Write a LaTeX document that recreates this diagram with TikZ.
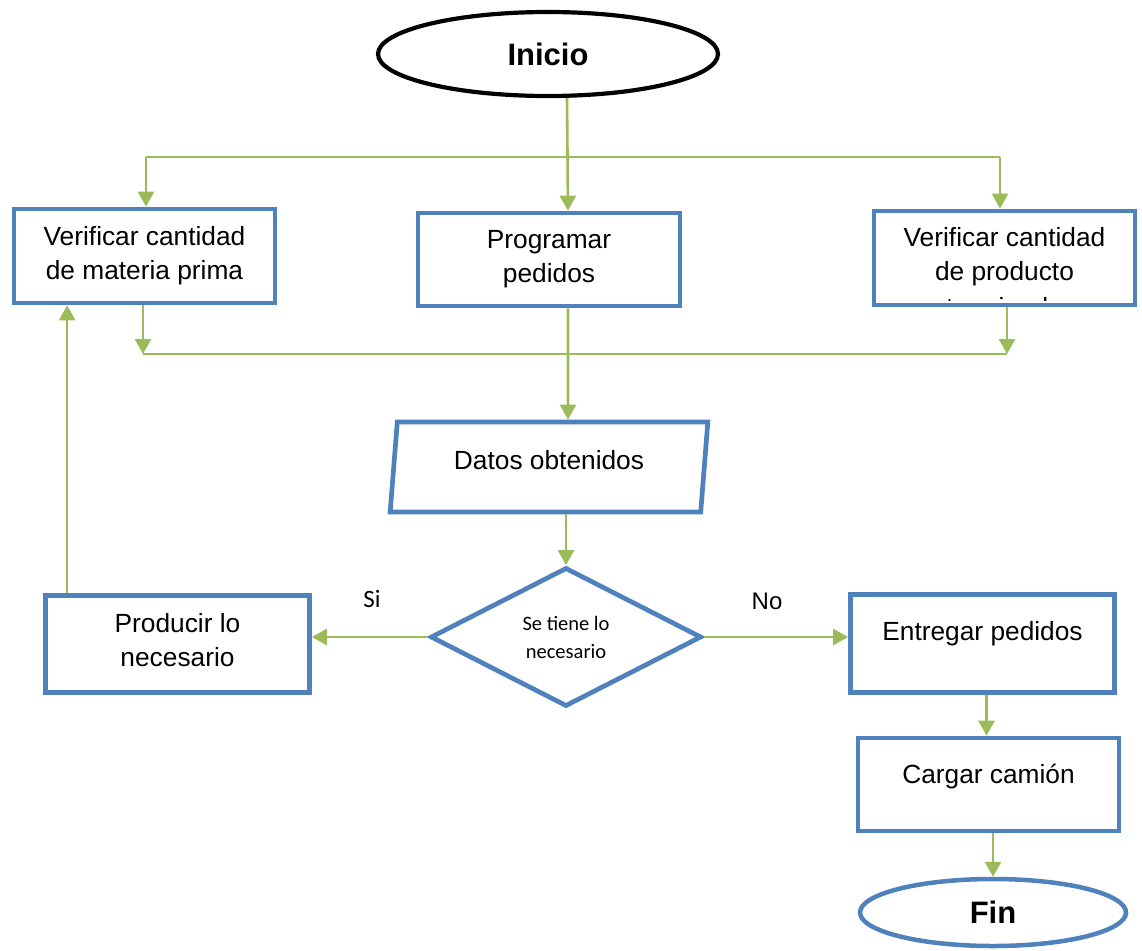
\documentclass[tikz,border=0pt]{standalone}
\usepackage{fontspec}
\setmainfont{Liberation Sans}
\newfontfamily\calibri{Carlito}
\usetikzlibrary{shapes.geometric,arrows.meta}
\definecolor{boxblue}{HTML}{4F81BD}
\definecolor{flowgreen}{HTML}{9BBB59}
% shift a line of text without changing the box size it reports
\newcommand\up[2]{\raisebox{#1}[\height][\depth]{#2}}
\begin{document}
\begin{tikzpicture}[x=1pt,y=-1pt,
  stepbox/.style={draw=boxblue, line width=4.7pt, fill=white, inner sep=0pt,
    align=center, font=\fontsize{26.3}{34}\selectfont},
  terminal/.style={ellipse, line width=4.2pt, fill=white, inner sep=0pt,
    font=\bfseries\fontsize{31}{36}\selectfont},
  datastep/.style={trapezium, trapezium left angle=77, trapezium right angle=103,
    trapezium stretches=true, draw=boxblue, line width=4.7pt, fill=white,
    inner sep=0pt, font=\fontsize{26.3}{34}\selectfont},
  decision/.style={diamond, draw=boxblue, line width=4.7pt, fill=white, inner sep=0pt,
    align=center, font=\calibri\fontsize{20.5}{28}\selectfont},
  branch/.style={font=\fontsize{24}{28}\selectfont, inner sep=0pt},
  flow/.style={draw=flowgreen, line width=2.6pt},
  arr/.style={flow, -{Triangle[length=15pt,width=16pt]}}
]
\useasboundingbox (0,0) rectangle (1142,950);

% start
\node[terminal, draw=black, minimum width=340pt, minimum height=84pt] (ini) at (548,54) {Inicio};

% first row of tasks
\node[stepbox, minimum width=261pt, minimum height=94pt] (verA) at (144.5,256)
  {Verificar cantidad\\de materia prima};
\node[stepbox, minimum width=262pt, minimum height=93pt] (prog) at (549,259.5)
  {Programar\\pedidos};
\node[stepbox, minimum width=261pt, minimum height=94pt] (verB) at (1004.5,258)
  {\up{1pt}{Verificar cantidad}\\\up{1pt}{de producto}};
\begin{scope}
  \clip (verB.north west) rectangle ([yshift=7pt]verB.south east);
  \node[anchor=base, font=\fontsize{26.3}{34}\selectfont, inner sep=0pt] (term)
    at ([yshift=-58pt]verB.center) {terminado};
\end{scope}

% data and decision
\node[datastep, minimum width=318pt, minimum height=90pt] (datos) at (549,467)
  {\up{7pt}{Datos obtenidos}};
\node[decision, minimum width=271pt, minimum height=139pt] (dia) at (566,637)
  {Se tiene lo\\necesario};

% outcomes
\node[stepbox, minimum width=264pt, minimum height=97pt] (prod) at (177.5,644)
  {\up{4pt}{Producir lo}\\\up{4pt}{necesario}};
\node[stepbox, minimum width=264pt, minimum height=98pt] (entr) at (982.5,643.5)
  {\up{10pt}{Entregar pedidos}};
\node[stepbox, minimum width=261pt, minimum height=93pt] (carg) at (988.5,784.5)
  {\up{8pt}{Cargar camión}};
\node[terminal, draw=boxblue, line width=4.5pt, minimum width=266pt, minimum height=67pt] (fin) at (993,912.5) {Fin};

\node[branch, font=\calibri\fontsize{25}{28}\selectfont] (si) at (372,599) {Si};
\node[branch] (no) at (767,601) {No};

% distribution line below the start
\coordinate (tl) at (146,157);
\coordinate (tr) at (1000,157);
\draw[flow] (tl) -- (tr);
\draw[arr] ([xshift=19pt]ini.south) -- ([xshift=19pt]prog.north);
\draw[arr] (tl) -- (verA.north -| tl);
\draw[arr] (tr) -- (verB.north -| tr);

% collecting line above the data
\coordinate (bl) at (143,354);
\coordinate (br) at (1007,354);
\draw[flow] (bl) -- (br);
\draw[arr] (verA.south -| bl) -- (bl);
\draw[arr] (verB.south -| br) -- (br);
\draw[arr] ([xshift=19pt]prog.south) -- ([xshift=19pt]datos.north);

\draw[arr] (datos.south -| dia.north) -- (dia.north);
\draw[arr] (dia.west) -- (dia.west -| prod.east);
\draw[arr] (dia.east) -- (dia.east -| entr.west);
\draw[arr] ([xshift=24pt]prod.north west) -- ([xshift=24pt]prod.north west |- verA.south);
\draw[arr] ([xshift=4pt]entr.south) -- ([xshift=4pt]entr.south |- carg.north);
\draw[arr] (carg.south -| fin.north) -- (fin.north);
\end{tikzpicture}
\end{document}
